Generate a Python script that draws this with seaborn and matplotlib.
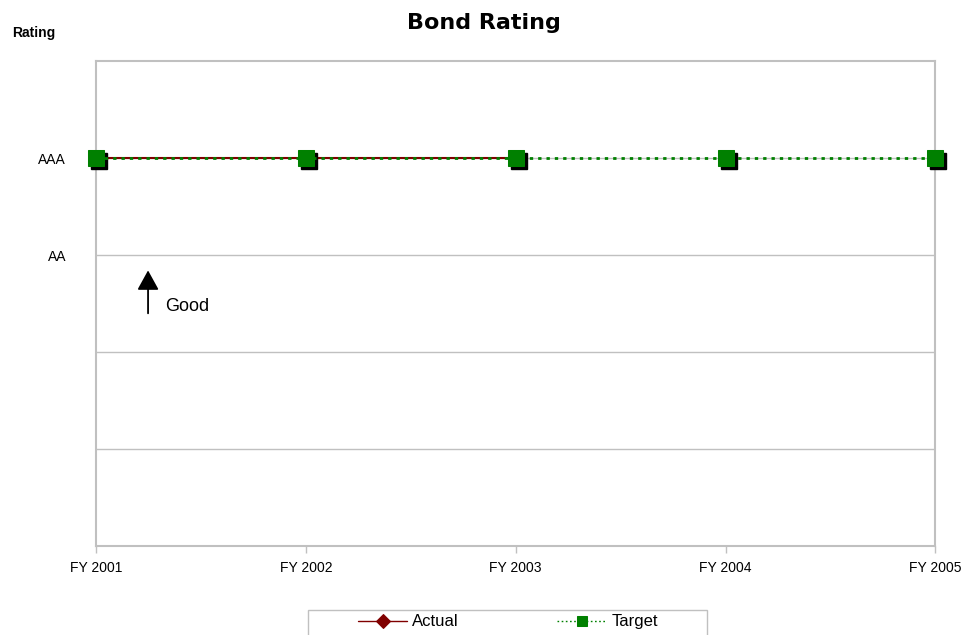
import matplotlib
matplotlib.use("Agg")
import matplotlib.pyplot as plt
import matplotlib.transforms as mtransforms
from matplotlib.patches import Rectangle
import seaborn as sns
import pandas as pd

# Fiscal years and rating scale
years = ["FY 2001", "FY 2002", "FY 2003", "FY 2004", "FY 2005"]
rating_scale = ["", "", "", "AA", "AAA", ""]
actual = ["AAA", "AAA", "AAA"]
target = ["AAA", "AAA", "AAA", "AAA", "AAA"]

sns.set_theme(style="white")
plt.rcParams["font.family"] = ["Liberation Sans", "DejaVu Sans"]
plt.rcParams["text.color"] = "black"
plt.rcParams["xtick.labelcolor"] = "black"
plt.rcParams["ytick.labelcolor"] = "black"

level = {r: i for i, r in enumerate(rating_scale) if r}
df_actual = pd.DataFrame({"year": range(len(actual)), "rating": [level[r] for r in actual]})
df_target = pd.DataFrame({"year": range(len(target)), "rating": [level[r] for r in target]})

fig = plt.figure(figsize=(9.64, 6.35), dpi=100)
ax = fig.add_axes([0.0996, 0.1402, 0.8707, 0.7637])

grid_c = "#c0c0c0"
for y in range(1, len(rating_scale) - 1):
    ax.axhline(y, color=grid_c, lw=1.0, zorder=0)

sns.lineplot(data=df_actual, x="year", y="rating", ax=ax, color="#800000",
             lw=1.5, marker="D", markersize=8, markeredgecolor="#800000",
             label="Actual", zorder=3, clip_on=False)

# drop shadow behind the target markers
shadow = mtransforms.offset_copy(ax.transData, fig=fig, x=3, y=-3, units="dots")
ax.plot(df_target["year"], df_target["rating"], ls="none", marker="s",
        markersize=11.5, color="black", transform=shadow, zorder=4, clip_on=False)

sns.lineplot(data=df_target, x="year", y="rating", ax=ax, color="#008000",
             lw=2.0, linestyle=(0, (1.2, 1.8)), marker="s", markersize=11.5,
             markeredgecolor="#008000", label="Target", zorder=5, clip_on=False)

ax.set_xlim(0, len(years) - 1)
ax.set_ylim(0, len(rating_scale) - 1)
ax.set_xticks(range(len(years)))
ax.set_xticklabels(years, fontsize=10)
ax.set_yticks(range(len(rating_scale)))
ax.set_yticklabels(rating_scale, fontsize=10)
ax.set_xlabel("")
ax.set_ylabel("")
ax.tick_params(axis="x", length=5, width=1, color=grid_c, pad=6, bottom=True)
ax.tick_params(axis="y", length=0, pad=21.5)
for sp in ax.spines.values():
    sp.set_color(grid_c)
    sp.set_linewidth(1.5)

ax.annotate("", xy=(0.248, 2.87), xytext=(0.248, 2.37),
            arrowprops=dict(arrowstyle="-|>,head_width=0.55,head_length=1.0",
                            color="black", lw=1.3))
ax.text(0.329, 2.47, "Good", fontsize=13, va="center", ha="left", color="black")

fig.text(0.502, 0.9543, "Bond Rating", fontsize=16, fontweight="bold",
         family="DejaVu Sans", ha="center", va="baseline")
fig.text(0.0125, 0.948, "Rating", fontsize=10, fontweight="bold",
         ha="left", va="center")

# legend below the plot, inside a plain grey box
ax.get_legend().remove()
h, l = ax.get_legend_handles_labels()
leg = fig.legend(h, l, loc="center left", bbox_to_anchor=(0.3714, 0.0205),
                 ncol=2, fontsize=12, frameon=False,
                 handlelength=2.95, handletextpad=0.3, columnspacing=5.9,
                 borderpad=0, borderaxespad=0)
for hl in leg.legend_handles:
    hl.set_linewidth(1.0)
    hl.set_markersize(7)
fig.patches.append(Rectangle((0.3195, -0.02), 0.4139, 0.0594,
                             transform=fig.transFigure, fill=False,
                             edgecolor=grid_c, lw=1.0))

fig.savefig("out.png", dpi=100)
